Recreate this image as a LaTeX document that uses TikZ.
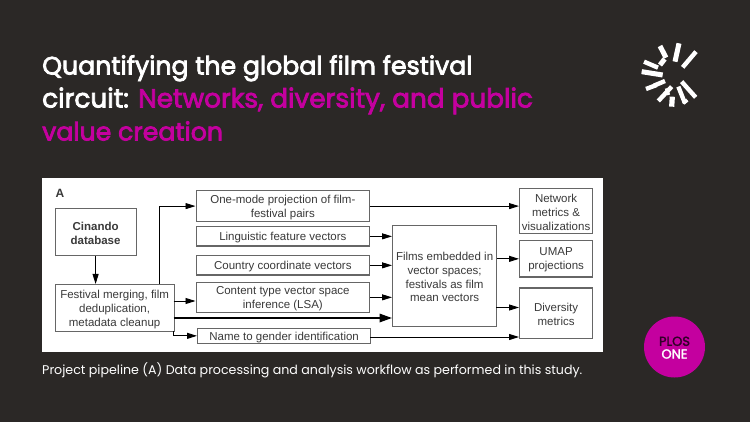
\documentclass[tikz,border=0pt]{standalone}
\usepackage{fontspec}
\setmainfont{Liberation Sans}
\newfontfamily\titlefont{Poppins}
\newfontfamily\headfont[FakeBold=3]{Poppins}
\newfontfamily\badgefont[FakeBold=2]{Poppins}
\usetikzlibrary{arrows.meta,calc}
\definecolor{bgc}{HTML}{2B2826}
\definecolor{mag}{HTML}{C4009F}
\definecolor{edge}{HTML}{666666}
\definecolor{ink}{HTML}{3A3A3A}
\tikzset{
  x=1pt,y=-1pt,
  pbox/.style={draw=edge,line width=1.2pt,fill=white,inner sep=0pt,anchor=north west},
  ptxt/.style={text=ink,font=\fontsize{11.5}{13.8}\selectfont,align=center,inner sep=0pt},
  flow/.style={draw=black,line width=0.9pt,-{Triangle[length=10pt,width=6pt]}},
  heavy/.style={draw=black,line width=1.7pt,-{Triangle[length=12.5pt,width=8.5pt]}},
  ray/.style={draw=white,line cap=butt},
  ttl/.style={text=white,font=\headfont\fontsize{25.2}{33}\selectfont,anchor=base west,inner sep=0pt},
}
\newcommand{\pb}[6]{\node[pbox,minimum width=#4pt-#2pt,minimum height=#5pt-#3pt] (#1) at (#2,#3) {};
  \node[ptxt] (#1t) at ($(#1.center)+(0,1.2)$) {#6};}
\begin{document}
\begin{tikzpicture}
\useasboundingbox (0,0) rectangle (750,422);
\fill[bgc] (0,0) rectangle (750,422);
\node[ttl] (t1) at (42,74.5) {Quantifying the global film festival};
\node[ttl,font=\headfont\fontsize{26.3}{33}\selectfont] (t2) at (42,107.5) {circuit: \textcolor{mag}{Networks, diversity, and public}};
\node[ttl,text=mag] (t3) at (42,140.5) {value creation};
\fill[white] (42,178) rectangle (603,352);
\node[font=\bfseries\fontsize{12}{12}\selectfont,text=ink,anchor=base west,inner sep=0pt] (lab) at (55.5,197.3) {A};
\pb{cin}{54.5}{208}{135.5}{255}{\bfseries Cinando\\\bfseries database}
\pb{fest}{54.5}{284}{173.5}{331}{Festival merging, film\\deduplication,\\metadata cleanup}
\pb{one}{195.5}{190}{369}{221}{One-mode projection of film-\\festival pairs}
\pb{ling}{195.5}{226}{369}{245.5}{Linguistic feature vectors}
\pb{ctry}{195.5}{255}{369}{274.5}{Country coordinate vectors}
\pb{cont}{195.5}{282}{369}{311.5}{Content type vector space\\inference (LSA)}
\pb{name}{197}{328}{370}{342.5}{Name to gender identification}
\pb{films}{392}{225}{496}{325.5}{Films embedded in\\vector spaces;\\festivals as film\\mean vectors}
\pb{net}{519}{188}{592}{233}{Network\\metrics \&\\visualizations}
\pb{umap}{519}{240}{592}{276.5}{UMAP\\projections}
\pb{div}{519}{287.5}{592}{338}{Diversity\\metrics}
\coordinate (festup) at (159.5,284);
\coordinate (festcont) at (173.5,301);
\coordinate (festthick) at (173.5,318);
\coordinate (festname) at (173.5,331);
\coordinate (filmsdiv) at (496,307.5);
\coordinate (nameout) at (370,337);
\draw[flow] (cin.south) -- (cin.south |- fest.north);
\draw[flow] (festup) |- (one.west);
\draw[flow] (festcont) -- (festcont -| cont.west);
\draw[heavy] (festthick) -- (festthick -| films.west);
\draw[flow] (festname) |- (name.west);
\draw[flow] (one.east) -- (one.east -| net.west);
\draw[flow] (ling.east) -- (ling.east -| films.west);
\draw[flow] (ctry.east) -- (ctry.east -| films.west);
\draw[flow] (cont.east) -- (cont.east -| films.west);
\draw[flow] (films.east |- umap.west) -- (umap.west);
\draw[flow] (filmsdiv) -- (filmsdiv -| div.west);
\draw[flow] (nameout) -- (nameout -| div.west);
\node[text=white,font=\titlefont\fontsize{12.63}{14}\selectfont,anchor=base west,inner sep=0pt] (cap) at (42,374) {Project pipeline (A) Data processing and analysis workflow as performed in this study.};
% logo
\begin{scope}[shift={(630,35)},x=0.3333pt,y=-0.3333pt]
\foreach \a/\b/\c/\d/\w in {90/33/108/68/5,104/72/90/90/5,147/25/135/80/5,198/50/158/97/4.4,42/80/84/98/4.4,35/110/98/120/5,48/162/80/150/4.4,72/152/105/138/4.4,85/198/125/155/4.4,125/215/127/185/5.2,115/180/110/160/3.5,145/155/165/205/4.4,155/140/197/187/4.4,160/205/172/195/3.5}
  \draw[ray,line width=\w pt] (\a,\b) -- (\c,\d);
\end{scope}
% badge
\node[circle,fill=mag,minimum size=61pt,inner sep=0pt] (plos) at (674.5,347) {};
\node[font=\badgefont\fontsize{13}{13}\selectfont,text=black!75!mag,inner sep=0pt] (p1) at (674.5,341.3) {PLOS};
\node[font=\badgefont\fontsize{13}{13}\selectfont,text=white,inner sep=0pt] (p2) at (674.5,354) {ONE};
\end{tikzpicture}
\end{document}
